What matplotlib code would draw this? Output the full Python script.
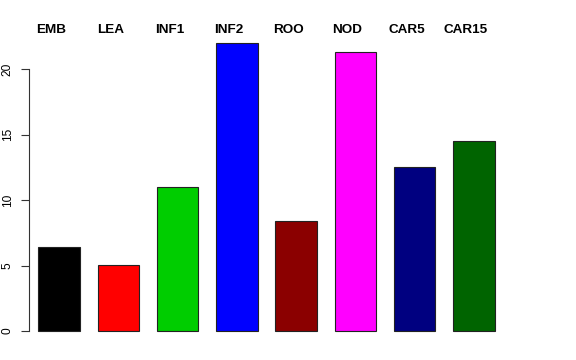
import numpy as np
import matplotlib
matplotlib.use('Agg')
import matplotlib.pyplot as plt

labels = ['EMB', 'LEA', 'INF1', 'INF2', 'ROO', 'NOD', 'CAR5', 'CAR15']
values = [6.45, 5.07, 11.04, 22.06, 8.4, 21.37, 12.55, 14.5]
colors = ['#000000', '#FF0000', '#00CD00', '#0000FF', '#8B0000', '#FF00FF', '#000080', '#006400']

plt.rcParams['font.family'] = ['Liberation Sans', 'DejaVu Sans']

fig = plt.figure(figsize=(5.76, 3.6), dpi=100)
ax = fig.add_axes([29/576, 0.0486, 475/576, 0.8653])

x = np.arange(len(labels))
ax.bar(x, values, width=0.7, color=colors, edgecolor='#222222', linewidth=0.8)

ymax = max(values)
ax.set_xlim(-0.507, 7.507)
ax.set_ylim(-0.04*ymax, 1.04*ymax)

for s in ['top', 'right', 'bottom']:
	ax.spines[s].set_visible(False)
ax.spines['left'].set_bounds(0, 20)
ax.spines['left'].set_linewidth(0.8)
ax.spines['left'].set_color('#333333')
ax.set_xticks([])
ax.set_yticks([0, 5, 10, 15, 20])
ax.tick_params(axis='y', length=6, width=0.8, pad=5, labelsize=8.6, color='#333333')
for t in ax.get_yticklabels():
	t.set_rotation(90)
	t.set_va('center')

for xi, lab in zip(x, labels):
	ax.text(xi - 0.135, 1.003, lab, transform=ax.get_xaxis_transform(),
		ha='center', va='center', fontsize=9.7, fontweight='bold')

fig.savefig('out.png', dpi=100)
